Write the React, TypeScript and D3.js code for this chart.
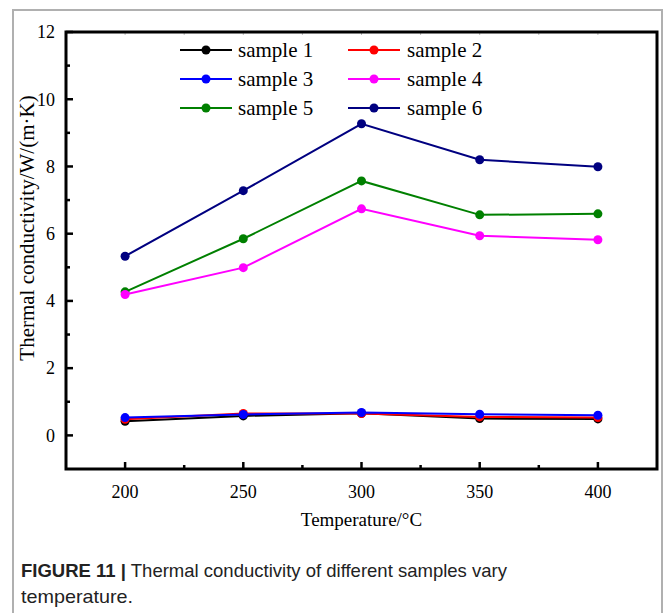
import React from "react";
import * as d3 from "d3";

const temperatures = [200, 250, 300, 350, 400];
const seriesNames = ["sample 1", "sample 2", "sample 3", "sample 4", "sample 5", "sample 6"];
const seriesColors = ["#000000", "#ff0000", "#0000ff", "#ff00ff", "#008000", "#000080"];
const sample1 = [0.42, 0.58, 0.66, 0.5, 0.49];
const sample2 = [0.48, 0.65, 0.65, 0.55, 0.53];
const sample3 = [0.53, 0.62, 0.68, 0.63, 0.6];
const sample4 = [4.19, 4.99, 6.74, 5.94, 5.82];
const sample5 = [4.27, 5.85, 7.57, 6.56, 6.59];
const sample6 = [5.33, 7.28, 9.27, 8.2, 7.99];
const yTicks = [0, 2, 4, 6, 8, 10, 12];
const xTicks = [200, 250, 300, 350, 400];

const allSeries = [sample1, sample2, sample3, sample4, sample5, sample6];

export default function App() {
  const W = 665, H = 613;
  const L = 66, R = 657, T = 32, B = 469;
  const x = d3.scaleLinear().domain([175, 425]).range([L, R]);
  const y = d3.scaleLinear().domain([-1, 12]).range([B, T]);
  const line = d3.line<number>().x((_, i) => x(temperatures[i])).y((d) => y(d));
  const serif = "'Liberation Serif', 'Times New Roman', serif";
  const sans = "'Liberation Sans', Arial, sans-serif";
  const minorX = d3.range(175, 426, 25).filter((v) => !xTicks.includes(v) && v > 175 && v < 425);
  const minorY = d3.range(-1, 12, 2).filter((v) => v > -1);
  const topTicks = d3.range(200, 425, 25);
  const drawOrder = [5, 4, 3, 0, 1, 2];
  const legendRows = [50, 79, 108];
  const legendCols = [{ x1: 180, x2: 232, tx: 238 }, { x1: 348, x2: 400, tx: 407 }];

  return (
    <svg width={W} height={H} style={{ position: "absolute", left: 0, top: 0, background: "#fff" }}>
      <rect x={0} y={0} width={W} height={H} fill="#fff" />
      <rect x={13} y={10} width={649} height={620} fill="none" stroke="#b0b0b0" strokeWidth={2} />
      {topTicks.map((v) => (
        <line key={"tt" + v} x1={x(v)} x2={x(v)} y1={T} y2={T + 3} stroke="#bbb" strokeWidth={1} />
      ))}
      {yTicks.map((v) => (
        <g key={"y" + v}>
          <line x1={L} x2={L + 7} y1={y(v)} y2={y(v)} stroke="#000" strokeWidth={2.5} />
          <text x={55} y={y(v)} dy="0.35em" textAnchor="end" fontFamily={serif} fontSize={18}>{v}</text>
        </g>
      ))}
      {minorY.map((v) => (
        <line key={"my" + v} x1={L} x2={L + 4} y1={y(v)} y2={y(v)} stroke="#000" strokeWidth={2.5} />
      ))}
      {xTicks.map((v) => (
        <g key={"x" + v}>
          <line x1={x(v)} x2={x(v)} y1={B} y2={B - 7} stroke="#000" strokeWidth={2.5} />
          <text x={x(v)} y={B + 23} dy="0.35em" textAnchor="middle" fontFamily={serif} fontSize={18}>{v}</text>
        </g>
      ))}
      {minorX.map((v) => (
        <line key={"mx" + v} x1={x(v)} x2={x(v)} y1={B} y2={B - 4} stroke="#000" strokeWidth={2.5} />
      ))}
      <rect x={L} y={T} width={R - L} height={B - T} fill="none" stroke="#000" strokeWidth={3} />
      {drawOrder.map((si) => (
        <g key={"s" + si}>
          <path d={line(allSeries[si]) || ""} fill="none" stroke={seriesColors[si]} strokeWidth={2} />
          {allSeries[si].map((v, i) => (
            <circle key={i} cx={x(temperatures[i])} cy={y(v)} r={4.5} fill={seriesColors[si]} />
          ))}
        </g>
      ))}
      {seriesNames.map((name, i) => {
        const col = legendCols[i % 2];
        const ry = legendRows[Math.floor(i / 2)];
        return (
          <g key={"l" + i}>
            <line x1={col.x1} x2={col.x2} y1={ry} y2={ry} stroke={seriesColors[i]} strokeWidth={2} />
            <circle cx={(col.x1 + col.x2) / 2} cy={ry} r={4.5} fill={seriesColors[i]} />
            <text x={col.tx} y={ry} dy="0.33em" fontFamily={serif} fontSize={21}>{name}</text>
          </g>
        );
      })}
      <text x={(L + R) / 2} y={519} dy="0.35em" textAnchor="middle" fontFamily={serif} fontSize={19}>Temperature/°C</text>
      <text transform={`translate(27,${228}) rotate(-90)`} textAnchor="middle" dy="0.35em" fontFamily={serif} fontSize={21}>Thermal conductivity/W/(m·K)</text>
      <text x={21} y={570} dy="0.35em" fontFamily={sans} fontSize={19} fill="#222" textLength={486} lengthAdjust="spacingAndGlyphs">
        <tspan fontWeight="bold">FIGURE 11 |</tspan>
        <tspan> Thermal conductivity of different samples vary</tspan>
      </text>
      <text x={21} y={596} dy="0.35em" fontFamily={sans} fontSize={19} fill="#222" textLength={112} lengthAdjust="spacingAndGlyphs">temperature.</text>
    </svg>
  );
}
